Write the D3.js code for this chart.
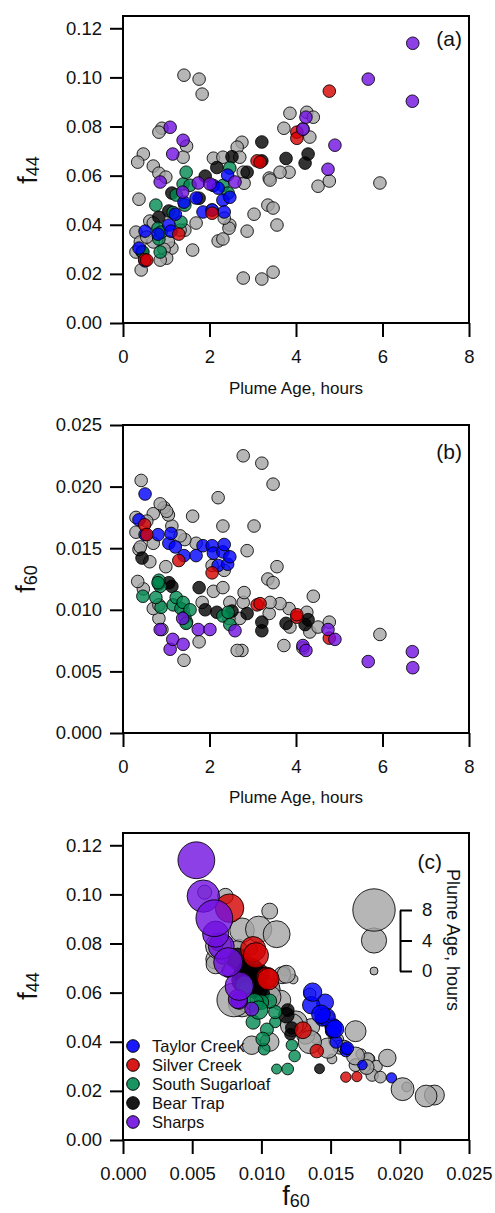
<!DOCTYPE html>
<html>
<head>
<meta charset="utf-8">
<script src="https://cdn.jsdelivr.net/npm/d3@7"></script>
<style>
  body { margin: 0; background: #fff; }
  svg { display: block; font-family: "Liberation Sans", Arial, sans-serif; }
</style>
</head>
<body>
<svg id="chart" width="495" height="1213"></svg>
<script>
// ---- categories and tick labels ----
const sites = ["Taylor Creek", "Silver Creek", "South Sugarloaf", "Bear Trap", "Sharps"];
const siteColors = ["#0000ff", "#d40000", "#008a50", "#000000", "#7010e0"];
const otherColor = "#a4a4a4";

const ageTicks = [0, 2, 4, 6, 8];
const f44Ticks = [0, 0.02, 0.04, 0.06, 0.08, 0.10, 0.12];
const f60Ticks = [0, 0.005, 0.010, 0.015, 0.020, 0.025];
const sizeTicks = [0, 4, 8];

// ---- Taylor Creek ----
const taylorAge = [0.37, 0.51, 0.51, 0.81, 1.06, 1.11, 1.21, 1.41, 1.69, 1.85, 2.06, 2.09, 2.20, 2.31, 2.34, 2.42, 2.47];
const taylorF44 = [0.0305, 0.0253, 0.0374, 0.0362, 0.0399, 0.0374, 0.0443, 0.0492, 0.0509, 0.0452, 0.0460, 0.0560, 0.0549, 0.0500, 0.0452, 0.0602, 0.0512];
const taylorF60 = [0.0173, 0.0194, 0.0161, 0.0161, 0.0154, 0.0162, 0.0151, 0.0144, 0.0144, 0.0152, 0.0152, 0.0146, 0.0136, 0.0147, 0.0153, 0.0137, 0.0143];

// ---- Silver Creek ----
const silverAge = [0.50, 0.55, 1.29, 2.06, 3.10, 3.17, 4.02, 4.02, 4.77];
const silverF44 = [0.0258, 0.0256, 0.0362, 0.0447, 0.0660, 0.0655, 0.0777, 0.0752, 0.0944];
const silverF60 = [0.0169, 0.0161, 0.0140, 0.0130, 0.0104, 0.0105, 0.0094, 0.0096, 0.0077];

// ---- South Sugarloaf ----
const sugarAge = [0.46, 0.86, 0.83, 0.81, 0.88, 0.76, 1.16, 1.23, 1.34, 1.39, 1.43, 1.46, 1.55, 2.31, 2.43, 2.47];
const sugarF44 = [0.0289, 0.0289, 0.0342, 0.0386, 0.0370, 0.0480, 0.0450, 0.0521, 0.0411, 0.0566, 0.0480, 0.0614, 0.0561, 0.0560, 0.0529, 0.0631];
const sugarF60 = [0.0111, 0.0119, 0.0124, 0.0122, 0.0102, 0.0110, 0.0104, 0.0110, 0.0101, 0.0106, 0.0094, 0.0089, 0.0100, 0.0095, 0.0098, 0.0088];

// ---- Bear Trap ----
const bearAge = [0.44, 0.83, 1.06, 1.13, 1.76, 1.90, 2.17, 2.52, 2.87, 3.21, 3.21, 3.77, 4.21, 4.28];
const bearF44 = [0.0290, 0.0431, 0.0456, 0.0529, 0.0508, 0.0598, 0.0633, 0.0677, 0.0614, 0.0737, 0.0660, 0.0670, 0.0651, 0.0688];
const bearF60 = [0.0142, 0.0121, 0.0122, 0.0119, 0.0118, 0.0100, 0.0098, 0.0099, 0.0097, 0.0083, 0.0090, 0.0089, 0.0088, 0.0092];

// ---- Sharps ----
const sharpsAge = [0.86, 1.09, 1.15, 1.38, 1.39, 1.74, 2.01, 2.59, 4.16, 4.23, 4.74, 4.90, 5.67, 6.69, 6.70];
const sharpsF44 = [0.0574, 0.0797, 0.0688, 0.0533, 0.0744, 0.0570, 0.0566, 0.0574, 0.0789, 0.0838, 0.0626, 0.0724, 0.0993, 0.0903, 0.1139];
const sharpsF60 = [0.0084, 0.0068, 0.0076, 0.0093, 0.0072, 0.0084, 0.0084, 0.0083, 0.0071, 0.0067, 0.0084, 0.0076, 0.0058, 0.0066, 0.0053];

// ---- other plumes (grey) ----
const otherAge = [0.47, 0.34, 0.37, 0.30, 0.40, 0.30, 0.42, 0.90, 0.83, 0.70, 0.83, 0.99, 0.62, 0.70, 0.70, 0.55,
  1.13, 1.05, 0.95, 1.01, 0.86, 1.41, 1.76, 1.83, 1.47, 1.39, 1.61, 1.69, 1.43, 1.32,
  2.78, 2.75, 2.64, 2.70, 2.78, 2.80, 2.87, 2.09, 2.31, 2.47, 2.45, 2.34, 2.20, 2.31, 2.06,
  3.86, 3.72, 3.84, 3.63, 3.38, 3.40, 3.35, 3.21, 3.47, 3.03, 3.47, 3.56,
  4.25, 4.40, 4.32, 4.16, 4.51, 4.77, 5.94];
const otherF44 = [0.0688, 0.0655, 0.0504, 0.0370, 0.0330, 0.0289, 0.0216, 0.0793, 0.0777, 0.0639, 0.0610, 0.0594, 0.0415, 0.0407, 0.0330, 0.0350,
  0.0305, 0.0330, 0.0300, 0.0264, 0.0256, 0.1009, 0.0993, 0.0932, 0.0720, 0.0675, 0.0297, 0.0407, 0.0378, 0.0378,
  0.0183, 0.0736, 0.0716, 0.0675, 0.0614, 0.0569, 0.0374, 0.0671, 0.0675, 0.0399, 0.0386, 0.0427, 0.0334, 0.0342, 0.0460,
  0.0854, 0.0793, 0.0614, 0.0614, 0.0590, 0.0582, 0.0480, 0.0179, 0.0207, 0.0443, 0.0468, 0.0399,
  0.0858, 0.0838, 0.0757, 0.0790, 0.0557, 0.0578, 0.0570];
const otherF60 = [0.0117, 0.0123, 0.0149, 0.0163, 0.0151, 0.0175, 0.0205, 0.0084, 0.0093, 0.0101, 0.0104, 0.0135, 0.0139, 0.0154, 0.0178, 0.0172,
  0.0168, 0.0177, 0.0183, 0.0180, 0.0186, 0.0059, 0.0074, 0.0106, 0.0090, 0.0100, 0.0176, 0.0154, 0.0157, 0.0160,
  0.0225, 0.0067, 0.0067, 0.0093, 0.0106, 0.0114, 0.0148, 0.0115, 0.0118, 0.0106, 0.0093, 0.0132, 0.0191, 0.0168, 0.0136,
  0.0086, 0.0071, 0.0101, 0.0105, 0.0097, 0.0106, 0.0125, 0.0219, 0.0202, 0.0168, 0.0122, 0.0135,
  0.0098, 0.0111, 0.0082, 0.0069, 0.0086, 0.0090, 0.0080];

// ---- records, drawn grey first, then each site ----
function rows(age, f44, f60, color) {
  return age.map((a, i) => ({ age: a, f44: f44[i], f60: f60[i], color }));
}
const layers = [
  rows(otherAge, otherF44, otherF60, otherColor),
  rows(bearAge, bearF44, bearF60, siteColors[3]),
  rows(sugarAge, sugarF44, sugarF60, siteColors[2]),
  rows(taylorAge, taylorF44, taylorF60, siteColors[0]),
  rows(silverAge, silverF44, silverF60, siteColors[1]),
  rows(sharpsAge, sharpsF44, sharpsF60, siteColors[4])
];
const points = layers.flat();

const svg = d3.select("#chart");
const L = 123, R = 469;
const tickFont = "18.5px";

function drawPanel(opts) {
  const { top, bottom, xDomain, yDomain, xTicks, yTicks, xFmt, yFmt, xKey, yKey, radius } = opts;
  const x = d3.scaleLinear().domain(xDomain).range([L, R]);
  const y = d3.scaleLinear().domain(yDomain).range([bottom, top]);
  const g = svg.append("g");

  // points
  g.append("g").selectAll("circle").data(points).join("circle")
    .attr("cx", d => x(d[xKey]))
    .attr("cy", d => y(d[yKey]))
    .attr("r", d => radius(d))
    .attr("fill", d => d.color)
    .attr("fill-opacity", 0.8)
    .attr("stroke", "#000")
    .attr("stroke-opacity", 0.85)
    .attr("stroke-width", 1);

  // axes
  const ya = g.append("g").attr("transform", `translate(${L},0)`)
    .call(d3.axisLeft(y).tickValues(yTicks).tickFormat(yFmt).tickSize(13).tickPadding(8));
  const xa = g.append("g").attr("transform", `translate(0,${bottom})`)
    .call(d3.axisBottom(x).tickValues(xTicks).tickFormat(xFmt).tickSize(14).tickPadding(13));
  [ya, xa].forEach(a => {
    a.select(".domain").remove();
    a.selectAll(".tick line").attr("stroke", "#000").attr("stroke-width", 2);
    a.selectAll(".tick text").attr("fill", "#111").style("font-size", tickFont);
  });

  // frame
  g.append("rect").attr("x", L).attr("y", top).attr("width", R - L).attr("height", bottom - top)
    .attr("fill", "none").attr("stroke", "#000").attr("stroke-width", 2);
  return { g, x, y };
}

function fLabel(parent, sub, attrs, rotate) {
  const t = parent.append("text").attr("fill", "#111").attr("text-anchor", "middle")
    .attr("transform", rotate).attr("x", attrs.x).attr("y", attrs.y);
  t.append("tspan").style("font-size", "27px").text("f");
  t.append("tspan").style("font-size", "18px").attr("dy", 2).text(sub);
  return t;
}

function plumeAgeLabel(parent, yPos) {
  parent.append("text").attr("x", (L + R) / 2).attr("y", yPos).attr("text-anchor", "middle")
    .attr("fill", "#111").style("font-size", "17px").text("Plume Age, hours");
}

function panelTag(parent, text, xPos, yPos) {
  parent.append("text").attr("x", xPos).attr("y", yPos).attr("text-anchor", "end")
    .attr("fill", "#111").style("font-size", "21px").text(text);
}

const fixedR = () => 6.3;
const sizeScale = d3.scaleLinear().domain([0, 8]).range([4, 21.2]);

// (a) f44 vs plume age
const pa = drawPanel({ top: 16, bottom: 323, xDomain: [0, 8], yDomain: [0, 0.125],
  xTicks: ageTicks, yTicks: f44Ticks, xFmt: d3.format("d"), yFmt: d3.format(".2f"),
  xKey: "age", yKey: "f44", radius: fixedR });
plumeAgeLabel(pa.g, 394);
fLabel(pa.g, "44", { x: -170, y: 37 }, "rotate(-90)");
panelTag(pa.g, "(a)", 462, 46);

// (b) f60 vs plume age
const pb = drawPanel({ top: 425, bottom: 733, xDomain: [0, 8], yDomain: [0, 0.025],
  xTicks: ageTicks, yTicks: f60Ticks, xFmt: d3.format("d"), yFmt: d3.format(".3f"),
  xKey: "age", yKey: "f60", radius: fixedR });
plumeAgeLabel(pb.g, 803);
fLabel(pb.g, "60", { x: -579, y: 35 }, "rotate(-90)");
panelTag(pb.g, "(b)", 462, 459);

// (c) f44 vs f60, marker size by plume age
const pc = drawPanel({ top: 833, bottom: 1140, xDomain: [0, 0.025], yDomain: [0, 0.125],
  xTicks: f60Ticks, yTicks: f44Ticks, xFmt: d3.format(".3f"), yFmt: d3.format(".2f"),
  xKey: "f60", yKey: "f44", radius: d => sizeScale(d.age) });
fLabel(pc.g, "60", { x: (L + R) / 2, y: 1205 }, null);
fLabel(pc.g, "44", { x: -986, y: 37 }, "rotate(-90)");
panelTag(pc.g, "(c)", 442, 869);

// size key
const keyY = d3.scaleLinear().domain([0, 8]).range([971, 910]);
pc.g.append("g").selectAll("circle").data(sizeTicks).join("circle")
  .attr("cx", 374).attr("cy", d => keyY(d)).attr("r", d => sizeScale(d))
  .attr("fill", otherColor).attr("fill-opacity", 0.8)
  .attr("stroke", "#000").attr("stroke-opacity", 0.85).attr("stroke-width", 1);
const ka = pc.g.append("g").attr("transform", "translate(400,0)")
  .call(d3.axisRight(keyY).tickValues(sizeTicks).tickFormat(d3.format("d")).tickSize(12).tickSizeOuter(0).tickPadding(10));
ka.select(".domain").attr("stroke", "#000").attr("stroke-width", 2);
ka.selectAll(".tick line").attr("stroke", "#000").attr("stroke-width", 2);
ka.selectAll(".tick text").attr("fill", "#111").style("font-size", tickFont);
pc.g.append("text").attr("transform", "translate(447,940) rotate(90)")
  .attr("text-anchor", "middle").attr("fill", "#111").style("font-size", "18px")
  .text("Plume Age, hours");

// site legend
const leg = pc.g.append("g").selectAll("g").data(sites).join("g")
  .attr("transform", (d, i) => `translate(133,${1046 + i * 19})`);
leg.append("circle").attr("r", 6.3)
  .attr("fill", (d, i) => siteColors[i]).attr("fill-opacity", 0.9)
  .attr("stroke", "#000").attr("stroke-width", 1);
leg.append("text").attr("x", 19).attr("dy", "0.35em").attr("fill", "#111")
  .style("font-size", "16.5px").text(d => d);
</script>
</body>
</html>
